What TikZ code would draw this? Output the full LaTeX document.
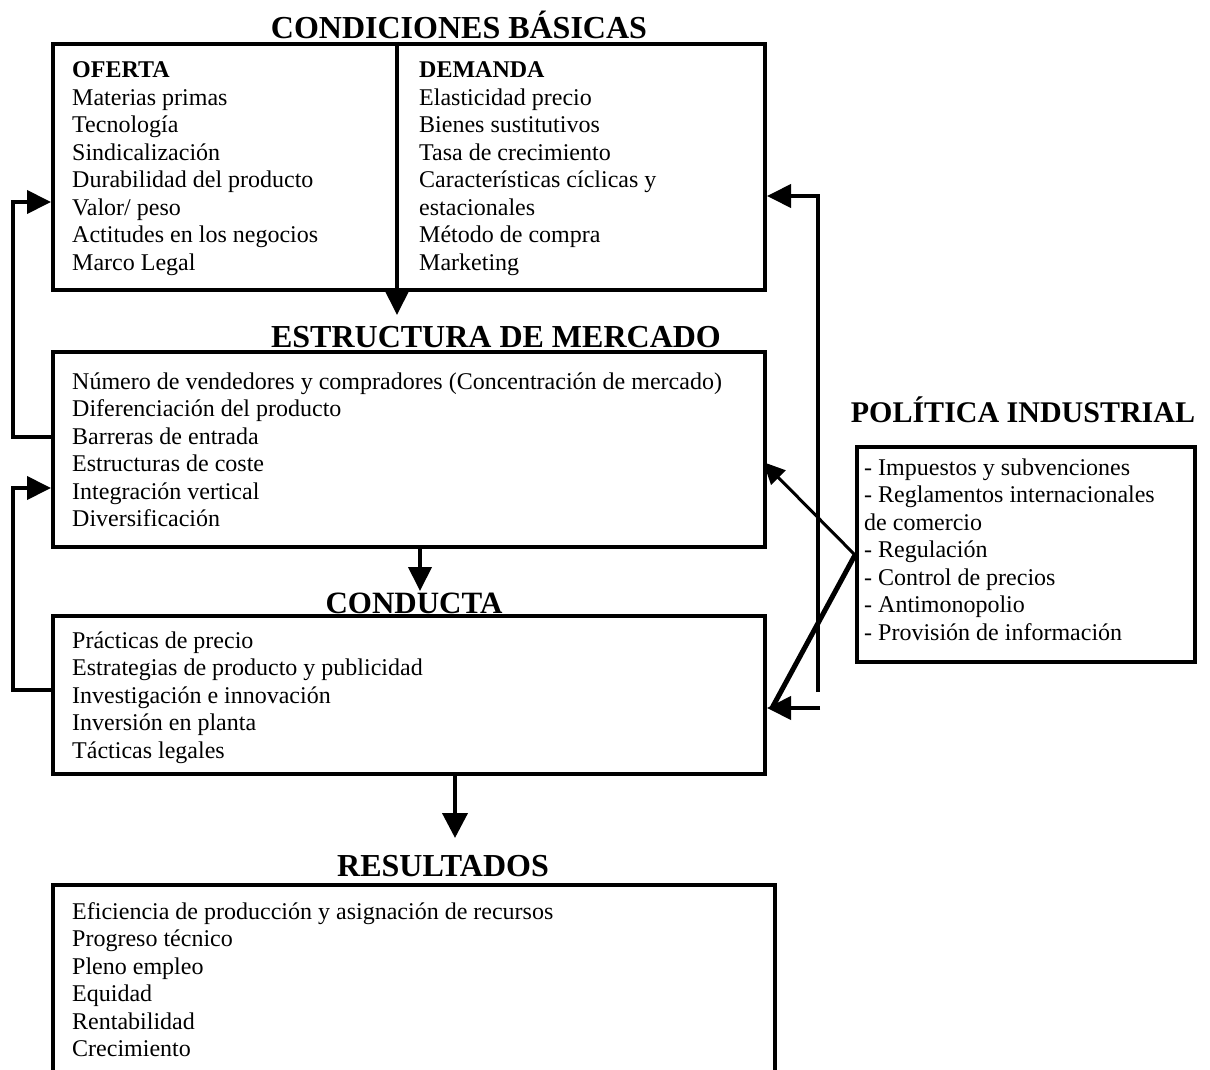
\documentclass[tikz,border=0pt]{standalone}
\usepackage{fontspec}
\setmainfont{Liberation Serif}
\usetikzlibrary{arrows.meta,calc}
\begin{document}
\begin{tikzpicture}[x=1pt,y=-1pt,
  box/.style={draw, line width=4pt, rectangle, anchor=north west, inner sep=0pt},
  conn/.style={line width=4pt},
  tip/.style={-{Triangle[length=24pt,width=23pt]}},
  ttl/.style={font=\fontsize{32}{36}\selectfont\bfseries, inner sep=0pt, anchor=base},
  txt/.style={font=\fontsize{24}{27.5}\selectfont, inner sep=0pt, anchor=base west},
]
\useasboundingbox (0,0) rectangle (1210,1070);
\clip (0,0) rectangle (1210,1070);

% titles
\node[ttl] (t1) at (459,39) {CONDICIONES BÁSICAS};
\node[ttl] (t2) at (496,347) {ESTRUCTURA DE MERCADO};
\node[ttl, font=\fontsize{31}{35}\selectfont\bfseries] (t3) at (414,613) {CONDUCTA};
\node[ttl] (t4) at (443,876) {RESULTADOS};
\node[ttl, font=\fontsize{30}{34}\selectfont\bfseries] (t5) at (1023,422) {POLÍTICA INDUSTRIAL};

% boxes
\node[box, minimum width=712, minimum height=246] (b1) at (51,42) {};
\node[box, minimum width=712, minimum height=195] (b2) at (51,350) {};
\node[box, minimum width=712, minimum height=158] (b3) at (51,614) {};
\node[box, minimum width=722, minimum height=210] (b4) at (51,883) {};
\node[box, minimum width=338, minimum height=215] (pol) at (855,445) {};

% texts
\node[txt] (of) at (72,78) {\begin{tabular}[t]{@{}l@{}}
\textbf{OFERTA}\\ Materias primas\\ Tecnología\\ Sindicalización\\
Durabilidad del producto\\ Valor/ peso\\ Actitudes en los negocios\\ Marco Legal
\end{tabular}};
\node[txt] (de) at (419,78) {\begin{tabular}[t]{@{}l@{}}
\textbf{DEMANDA}\\ Elasticidad precio\\ Bienes sustitutivos\\ Tasa de crecimiento\\
Características cíclicas y\\ estacionales\\ Método de compra\\ Marketing
\end{tabular}};
\node[txt] (em) at (72,389) {\begin{tabular}[t]{@{}l@{}}
Número de vendedores y compradores (Concentración de mercado)\\
Diferenciación del producto\\ Barreras de entrada\\ Estructuras de coste\\
Integración vertical\\ Diversificación
\end{tabular}};
\node[txt] (co) at (72,648) {\begin{tabular}[t]{@{}l@{}}
Prácticas de precio\\ Estrategias de producto y publicidad\\
Investigación e innovación\\ Inversión en planta\\ Tácticas legales
\end{tabular}};
\node[txt] (re) at (72,919) {\begin{tabular}[t]{@{}l@{}}
Eficiencia de producción y asignación de recursos\\ Progreso técnico\\
Pleno empleo\\ Equidad\\ Rentabilidad\\ Crecimiento
\end{tabular}};
\node[txt] (pi) at (864,475) {\begin{tabular}[t]{@{}l@{}}
- Impuestos y subvenciones\\ - Reglamentos internacionales\\ de comercio\\
- Regulación\\ - Control de precios\\ - Antimonopolio\\ - Provisión de información
\end{tabular}};

% coordinates
\coordinate (dv) at (397,42);
\coordinate (dvt) at (397,315);
\coordinate (a2) at (420,591);
\coordinate (a3) at (455,838);
\coordinate (l1a) at (13,437);
\coordinate (l1b) at (13,202);
\coordinate (l2a) at (13,690);
\coordinate (l2b) at (13,488);
\coordinate (r1) at (818,692);
\coordinate (r2) at (818,196);
\coordinate (r3) at (820,708);
\coordinate (pw) at (855,555);
\coordinate (u1) at (763,462);
\coordinate (dg) at (772,708);

% connectors
\draw[conn, tip] (dv) -- (dvt);
\draw[conn, tip] (b2.south -| a2) -- (a2);
\draw[conn, -{Triangle[length=25pt,width=25pt]}] (b3.south -| a3) -- (a3);
\draw[conn, tip] (b2.west |- l1a) -- (l1a) -- (l1b) -- (b1.west |- l1b);
\draw[conn, tip] (b3.west |- l2a) -- (l2a) -- (l2b) -- (b2.west |- l2b);
\draw[conn, tip] (r1) -- (r2) -- (b1.east |- r2);
\draw[conn, tip] (r3) -- (b3.east |- r3);
\draw[line width=3pt, -{Triangle[length=22pt,width=20pt]}] (pw) -- (u1);
\draw[line width=5pt] (pw) -- (dg);
\end{tikzpicture}
\end{document}
